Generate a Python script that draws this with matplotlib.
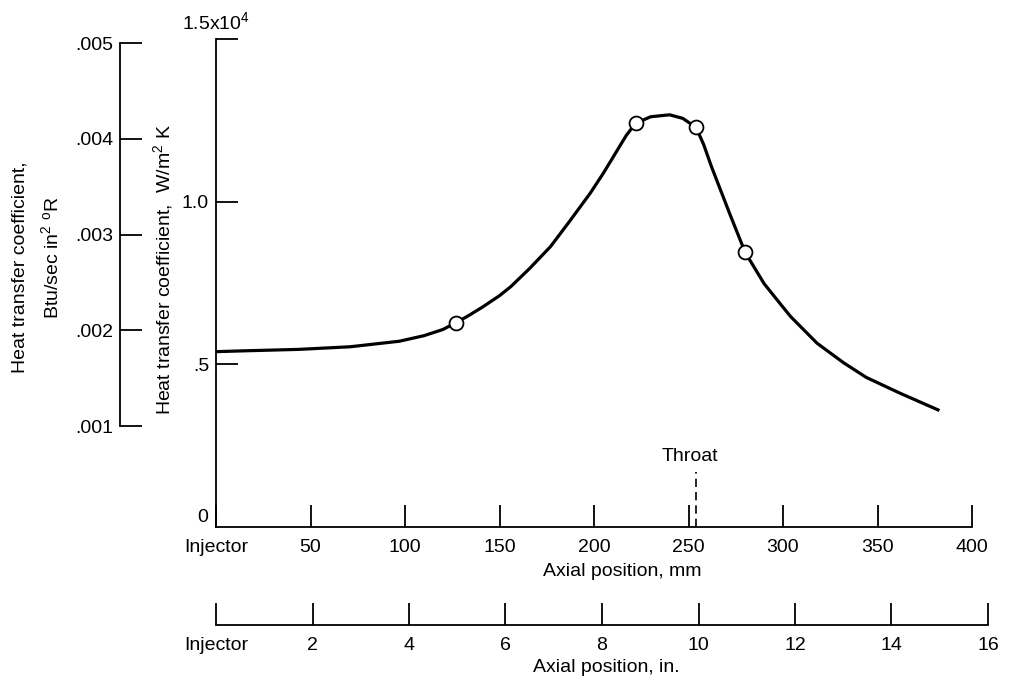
import numpy as np
import matplotlib.pyplot as plt

plt.rcParams['font.family'] = ['Liberation Sans', 'DejaVu Sans']
plt.rcParams['mathtext.fontset'] = 'custom'
plt.rcParams['mathtext.rm'] = 'Liberation Sans'

# curve: axial position (mm), heat transfer coefficient (x1e4 W/m2K)
curve_mm = [0, 18, 44, 71, 97, 110, 120, 127, 134, 141, 150, 156, 166, 177, 187, 198, 205,
            212, 217, 222, 230, 240, 247, 254, 258, 262, 272, 280, 290, 298, 304, 318,
            332, 344, 362, 382]
curve_h = [0.539, 0.542, 0.546, 0.554, 0.571, 0.588, 0.607, 0.628, 0.651, 0.676, 0.711, 0.739,
           0.795, 0.862, 0.939, 1.026, 1.088, 1.155, 1.203, 1.241, 1.261, 1.267, 1.256,
           1.228, 1.176, 1.110, 0.960, 0.844, 0.748, 0.690, 0.647, 0.565, 0.505, 0.460,
           0.411, 0.360]

# measured points
pts_mm = [127, 222, 254, 280]
pts_h = [0.628, 1.241, 1.228, 0.844]

throat_mm = 254

mm_ticks = [0, 50, 100, 150, 200, 250, 300, 350, 400]
mm_labels = ["Injector", "50", "100", "150", "200", "250", "300", "350", "400"]
in_ticks = [0, 2, 4, 6, 8, 10, 12, 14, 16]
in_labels = ["Injector", "2", "4", "6", "8", "10", "12", "14", "16"]
btu_ticks = [0.001, 0.002, 0.003, 0.004, 0.005]
btu_labels = [".001", ".002", ".003", ".004", ".005"]

W, H = 1009, 679
fig = plt.figure(figsize=(W / 100, H / 100), dpi=100)


def box(x0, y0, x1, y1):
    # pixel box (top-left origin) -> figure fraction
    return [x0 / W, 1 - y1 / H, (x1 - x0) / W, (y1 - y0) / H]


def ftext(x, y, s, **kw):
    # text placed by pixel centre
    fig.text(x / W, 1 - y / H, s, ha='center', va='center', fontsize=fs, **kw)


fs = 14
tl = 16

# main axes
ax = fig.add_axes(box(216, 39, 972, 527))
ax.plot(np.array(curve_mm), np.array(curve_h) * 1e4, color='black', lw=2.3,
        solid_joinstyle='round')
ax.plot(np.array(pts_mm), np.array(pts_h) * 1e4, 'o', ms=10, mfc='white', mec='black', mew=1.3)
ax.set_xlim(0, 400)
ax.set_ylim(0, 1.5e4)
for s in ['top', 'right']:
    ax.spines[s].set_visible(False)
for s in ['left', 'bottom']:
    ax.spines[s].set_linewidth(1.3)
ax.set_xticks(mm_ticks)
ax.set_xticklabels(mm_labels)
ax.set_yticks([0.5e4, 1.0e4, 1.5e4])
ax.set_yticklabels([".5", "1.0", ""])
ax.tick_params(direction='in', length=tl, width=1.3, labelsize=fs)
ax.tick_params(axis='x', pad=9)
ax.tick_params(axis='y', pad=5)
ax.text(0, 1.5e4 + 150, "1.5x10$^4$", ha='center', va='bottom', fontsize=fs)
ax.text(-4, 20, "0", ha='right', va='bottom', fontsize=fs)

# throat marker
ax.plot([throat_mm, throat_mm], [0, 0.169e4], color='black', lw=1.2, ls=(0, (5, 3)))
ax.text(throat_mm - 3, 0.19e4, "Throat", ha='center', va='bottom', fontsize=fs)

# inch axis
axi = fig.add_axes(box(216, 600, 988, 625))
axi.set_xlim(0, 16)
axi.set_ylim(0, 1)
axi.patch.set_visible(False)
for s in ['top', 'right', 'left']:
    axi.spines[s].set_visible(False)
axi.spines['bottom'].set_linewidth(1.3)
axi.set_yticks([])
axi.set_xticks(in_ticks)
axi.set_xticklabels(in_labels)
axi.tick_params(direction='in', length=tl, width=1.3, labelsize=fs, pad=9)

# Btu axis
axb = fig.add_axes(box(120, 39, 121, 527))
axb.set_ylim(-0.0000548, 0.0050418)
axb.patch.set_visible(False)
for s in ['top', 'right', 'bottom']:
    axb.spines[s].set_visible(False)
axb.spines['left'].set_linewidth(1.3)
axb.spines['left'].set_bounds(0.001, 0.005)
axb.set_xticks([])
axb.set_yticks(btu_ticks)
axb.set_yticklabels(btu_labels)
axb.tick_params(direction='in', length=tl, width=1.3, labelsize=fs, pad=5)

# axis titles
ftext(622, 572, "Axial position, mm")
ftext(606, 667, "Axial position, in.")
ftext(164, 270, "Heat transfer coefficient,  W/m$^2$ K", rotation=90)
ftext(20, 267, "Heat transfer coefficient,", rotation=90)
ftext(52, 258, "Btu/sec in$^2$ $^{\\mathrm{o}}$R", rotation=90)

fig.savefig("out.png", dpi=100)
